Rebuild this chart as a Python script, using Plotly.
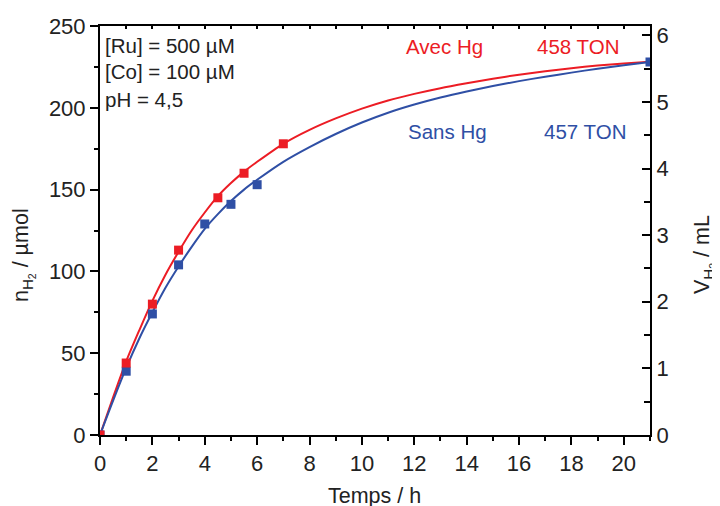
import plotly.graph_objects as go

# measured points
t_avec = [0, 1, 2, 3, 4.5, 5.5, 7]
n_avec = [0, 44, 80, 113, 145, 160, 178]
t_sans = [0, 1, 2, 3, 4, 5, 6, 21]
n_sans = [0, 39, 74, 104, 129, 141, 153, 228]

# fitted curves
tf = [0, 0.5, 1, 1.5, 2, 2.5, 3, 3.5, 4, 4.5, 5, 5.5, 6, 7, 8, 9, 10, 11, 12, 13, 14, 15, 16, 17, 18, 19, 20, 21]
fit_avec = [0, 23, 45, 64, 82, 98, 112, 125, 136, 146, 154, 161, 167, 178, 186.5, 193.5, 199.5, 204.5, 208.5, 212, 215, 217.8, 220.2, 222.3, 224.2, 225.8, 227.1, 228.2]
fit_sans = [0, 21, 41, 59, 75, 90, 103, 115, 126, 135, 143, 150, 156, 167, 176, 184, 191, 197, 202, 206.3, 210, 213.3, 216.3, 219, 221.5, 223.9, 226, 228]

x_ticks = [0, 2, 4, 6, 8, 10, 12, 14, 16, 18, 20]
y_ticks = [0, 50, 100, 150, 200, 250]
v_ticks = [0, 1, 2, 3, 4, 5, 6]

RED = "#EC1C24"
BLUE = "#2F4FA5"
FONT = "Liberation Sans, Arial, sans-serif"
TXT = "#222"

fig = go.Figure()
fig.add_trace(go.Scatter(x=tf, y=fit_avec, mode="lines", line=dict(color=RED, width=2, shape="spline", smoothing=0.8), showlegend=False))
fig.add_trace(go.Scatter(x=tf, y=fit_sans, mode="lines", line=dict(color=BLUE, width=2, shape="spline", smoothing=0.8), showlegend=False))
fig.add_trace(go.Scatter(x=t_sans, y=n_sans, mode="markers", marker=dict(symbol="square", size=9, color=BLUE), showlegend=False))
fig.add_trace(go.Scatter(x=t_avec, y=n_avec, mode="markers", marker=dict(symbol="square", size=9, color=RED), showlegend=False))
# invisible trace to activate secondary axes
fig.add_trace(go.Scatter(x=[0], y=[0], xaxis="x2", yaxis="y2", mode="markers", marker=dict(opacity=0), showlegend=False, hoverinfo="skip"))

line_common = dict(showline=True, linecolor="black", linewidth=2, showgrid=False, zeroline=False,
                   tickcolor="black", tickwidth=1.5, automargin=False)
tickfont = dict(family=FONT, size=22, color=TXT)

# page has an 8px body margin: plot area sits at page x 100..650, y 26..435
fig.update_layout(
    width=720, height=506,
    margin=dict(l=92, r=78, t=18, b=79),
    paper_bgcolor="white", plot_bgcolor="white",
    font=dict(family=FONT, color=TXT),
    xaxis=dict(range=[0, 21], tickvals=x_ticks, ticks="outside", ticklen=8, tickfont=tickfont,
               minor=dict(dtick=1, tick0=0, ticks="outside", ticklen=4, tickcolor="black", tickwidth=1.5),
               **line_common),
    yaxis=dict(range=[0, 250], tickvals=y_ticks, ticks="outside", ticklen=8, tickfont=tickfont,
               minor=dict(dtick=25, tick0=0, ticks="outside", ticklen=4, tickcolor="black", tickwidth=1.5),
               **line_common),
    xaxis2=dict(range=[0, 21], overlaying="x", side="top", tickvals=list(range(0, 22)), ticks="inside",
                ticklen=3, showticklabels=False, **line_common),
    yaxis2=dict(range=[0, 6.14], overlaying="y", side="right", tickvals=v_ticks, ticks="inside", ticklen=8,
                tickfont=tickfont,
                minor=dict(dtick=0.5, tick0=0, ticks="inside", ticklen=6, tickcolor="black", tickwidth=1.5),
                **line_common),
)

ann = []
def A(text, x, y, color=TXT, size=20.5, xanchor="left", angle=0):
    ann.append(dict(text=text, x=x, y=y, xref="paper", yref="paper", showarrow=False,
                    xanchor=xanchor, yanchor="middle", textangle=angle,
                    font=dict(family=FONT, size=size, color=color)))

# page pixel -> paper coords
W, H, L, T = 550, 409, 100, 26
def px(xp): return (xp - L) / W
def py(yp): return 1 - (yp - T) / H

A("[Ru] = 500 µM", px(103), py(45))
A("[Co] = 100 µM", px(103), py(72))
A("pH = 4,5", px(103), py(99))
A("Avec Hg", px(404), py(47), color=RED)
A("458 TON", px(535), py(47), color=RED)
A("Sans Hg", px(406), py(131), color=BLUE)
A("457 TON", px(542), py(131), color=BLUE)
A("Temps / h", px(374), py(496), size=21.5, xanchor="center")
A("n<sub>H<sub>2</sub></sub> / µmol", px(23), py(255), size=21.5, xanchor="center", angle=-90)
A("V<sub>H<sub>2</sub></sub> / mL", px(704), py(255), size=21.5, xanchor="center", angle=-90)
fig.update_layout(annotations=ann)

fig.write_html("out.html")
